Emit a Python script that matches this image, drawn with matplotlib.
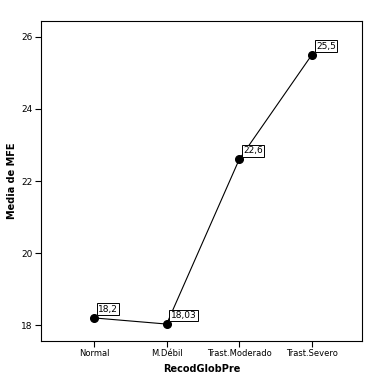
import matplotlib
matplotlib.use("Agg")
import matplotlib.pyplot as plt

categories = ["Normal", "M.Débil", "Trast.Moderado", "Trast.Severo"]
values = [18.2, 18.03, 22.6, 25.5]
value_labels = ["18,2", "18,03", "22,6", "25,5"]
yticks = [18, 20, 22, 24, 26]

fig = plt.figure(figsize=(3.70, 3.83), dpi=100)
ax = fig.add_axes([0.111, 0.1097, 0.867, 0.8353])
x = list(range(len(categories)))
ax.plot(x, values, color="black", linewidth=0.8, marker="o", markersize=5.5,
        markerfacecolor="black", markeredgecolor="black")
for xi, v, lab in zip(x, values, value_labels):
    ax.annotate(lab, (xi, v), xytext=(3, 3), textcoords="offset points",
                fontsize=6.5, ha="left", va="bottom",
                bbox=dict(boxstyle="square,pad=0.15", fc="white", ec="black", lw=0.7))
ax.set_xlim(-0.73, 3.69)
ax.set_ylim(17.56, 26.44)
ax.set_xticks(x)
ax.set_xticklabels(categories, fontsize=6)
ax.set_yticks(yticks)
ax.set_yticklabels([str(t) for t in yticks], fontsize=6.5)
ax.tick_params(direction="out", length=4, width=0.8, pad=2)
for s in ax.spines.values():
    s.set_linewidth(0.8)
ax.set_xlabel("RecodGlobPre", fontsize=7, fontweight="bold", labelpad=4)
ax.set_ylabel("Media de MFE", fontsize=7, fontweight="bold", labelpad=3)
fig.savefig("out.png", dpi=100)
